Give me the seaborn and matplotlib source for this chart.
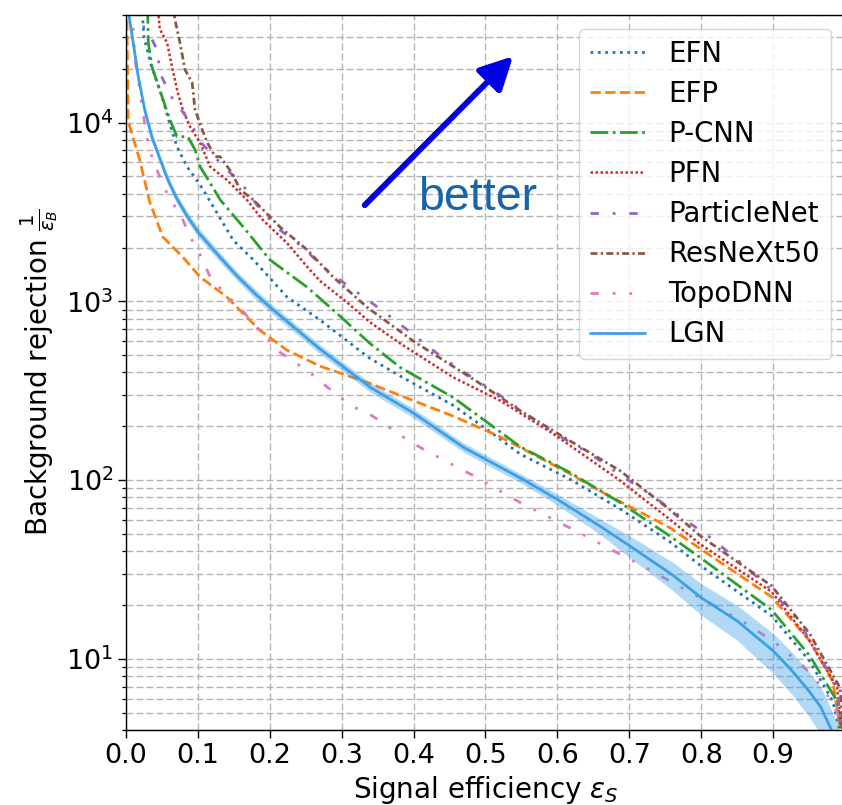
import numpy as np
import matplotlib
matplotlib.use("Agg")
import matplotlib.pyplot as plt
import matplotlib.patheffects as pe
import seaborn as sns

# ROC curves: signal efficiency vs. background rejection (1/eps_B)
efn_x = [0.022, 0.025, 0.035, 0.05, 0.062, 0.071, 0.085, 0.103, 0.114, 0.149, 0.177, 0.224,
         0.27, 0.339, 0.385, 0.455, 0.51, 0.548, 0.618, 0.687, 0.757, 0.798, 0.898, 0.951,
         0.983, 0.993]
efn_y = [45000, 30000, 21000, 14000, 9500, 7330, 5660, 4490, 3800, 2200, 1710, 1057,
         786, 480, 375, 262, 182, 140, 101, 69, 45, 33.5, 17.4, 9.7, 5.8, 3.9]

efp_x = [0.001, 0.003, 0.019, 0.033, 0.051, 0.079, 0.103, 0.14, 0.186, 0.224, 0.27, 0.339,
         0.363, 0.455, 0.52, 0.613, 0.659, 0.757, 0.798, 0.898, 0.951, 0.983, 0.993]
efp_y = [45000, 10200, 6200, 3600, 2300, 1770, 1370, 1060, 690, 533, 434, 348,
         318, 228, 175, 111, 87, 54, 41.5, 22.2, 12.6, 7.5, 4.1]

pcnn_x = [0.030, 0.031, 0.036, 0.05, 0.061, 0.071, 0.086, 0.096, 0.103, 0.117, 0.131, 0.163,
          0.2, 0.252, 0.293, 0.339, 0.381, 0.455, 0.51, 0.548, 0.618, 0.687, 0.757, 0.798,
          0.898, 0.951, 0.989, 0.995]
pcnn_y = [45000, 28100, 20600, 14000, 10400, 8340, 8340, 7060, 5670, 4600, 3700, 2610,
          1710, 1200, 860, 583, 428, 290, 200, 154, 110, 75, 48.5, 37,
          18.8, 10.4, 5.8, 4.0]

pfn_x = [0.044, 0.047, 0.057, 0.064, 0.072, 0.079, 0.089, 0.103, 0.117, 0.14, 0.168, 0.19,
         0.224, 0.252, 0.27, 0.307, 0.339, 0.381, 0.455, 0.52, 0.594, 0.687, 0.757, 0.798,
         0.898, 0.951, 0.989, 0.996]
pfn_y = [45000, 33300, 28100, 20600, 14700, 11800, 9500, 7730, 5670, 4790, 3700, 2860,
         2120, 1560, 1300, 990, 766, 583, 376, 279, 182, 99.5, 60, 44,
         23.7, 12.6, 6.9, 4.0]

pnet_x = [0.012, 0.013, 0.036, 0.045, 0.046, 0.064, 0.086, 0.107, 0.135, 0.163, 0.186, 0.214,
          0.245, 0.274, 0.307, 0.339, 0.374, 0.406, 0.441, 0.481, 0.52, 0.559, 0.601, 0.645,
          0.687, 0.732, 0.773, 0.815, 0.857, 0.894, 0.932, 0.958, 0.979, 0.989, 0.996]
pnet_y = [45000, 40400, 29300, 24700, 19300, 13800, 10500, 7530, 5740, 4440, 3300, 2510,
          2020, 1560, 1234, 1000, 785, 622, 481, 376, 298, 230, 178, 141,
          107, 82, 61.7, 47, 34, 25, 16.9, 11.5, 8.2, 6.6, 4.0]

resnext_x = [0.066, 0.068, 0.075, 0.082, 0.092, 0.096, 0.106, 0.113, 0.124, 0.131, 0.147, 0.159,
             0.177, 0.214, 0.252, 0.288, 0.335, 0.40, 0.49, 0.548, 0.615, 0.687, 0.757, 0.798,
             0.898, 0.951, 0.993, 0.998]
resnext_y = [45000, 37800, 28100, 19800, 16700, 11800, 9140, 7730, 6450, 6450, 5250, 4210,
             3700, 2610, 1940, 1370, 929, 598, 352, 245, 168, 113, 68, 49,
             25.6, 13.8, 6.9, 4.0]

topo_x = [0.008, 0.01, 0.013, 0.029, 0.038, 0.061, 0.075, 0.089, 0.1, 0.117, 0.142, 0.156,
          0.182, 0.196, 0.21, 0.245, 0.266, 0.28, 0.298, 0.318, 0.337, 0.357, 0.378, 0.398,
          0.416, 0.483, 0.548, 0.592, 0.638, 0.683, 0.726, 0.773, 0.816, 0.861, 0.903, 0.942,
          0.961, 0.979, 0.99, 0.995]
topo_y = [45000, 33300, 22000, 8240, 6040, 3700, 3130, 2300, 1940, 1370, 1056, 953,
          708, 630, 533, 428, 372, 331, 290, 255, 236, 210, 182, 162,
          147, 106, 75, 61, 49, 39.3, 31.9, 25, 20.1, 15.9, 12.3, 9.1,
          7.5, 6.0, 4.9, 4.0]

lgn_x = [0.002, 0.01, 0.017, 0.026, 0.036, 0.047, 0.058, 0.07, 0.085, 0.10, 0.13, 0.155,
         0.18, 0.20, 0.27, 0.34, 0.40, 0.47, 0.55, 0.60, 0.66, 0.70, 0.76, 0.80, 0.85, 0.90,
         0.925, 0.95, 0.966, 0.98, 0.99]
lgn_y = [45000, 28000, 18100, 11800, 8300, 6300, 4800, 3800, 3000, 2450, 1780, 1380,
         1100, 930, 540, 330, 237, 152, 102, 78, 55, 43, 29.5, 22, 16.3, 11.1,
         8.7, 6.6, 5.4, 4.1, 3.3]
lgn_lo = [42300, 26300, 17000, 11100, 7800, 5920, 4510, 3570, 2820, 2300, 1670, 1300,
          1030, 874, 508, 310, 223, 143, 96, 72.5, 49.5, 37, 24.2, 17.6, 12.7, 8.3,
          6.4, 4.75, 3.8, 2.9, 2.3]
lgn_hi = [47700, 29700, 19200, 12500, 8800, 6680, 5090, 4030, 3180, 2600, 1890, 1460,
          1170, 986, 572, 350, 251, 161, 108, 83.5, 60.5, 49, 34.8, 26.4, 19.9, 13.9,
          11.0, 8.45, 7.0, 5.3, 4.3]

x_ticks = [0.0, 0.1, 0.2, 0.3, 0.4, 0.5, 0.6, 0.7, 0.8, 0.9]

series = [
    ("EFN", efn_x, efn_y, "#1f77b4", (0, (1, 1.65)), 2.0),
    ("EFP", efp_x, efp_y, "#ff7f0e", (0, (3.7, 1.6)), 2.0),
    ("P-CNN", pcnn_x, pcnn_y, "#2ca02c", (0, (6.4, 1.6, 1, 1.6)), 2.0),
    ("PFN", pfn_x, pfn_y, "#d62728", (0, (1, 1)), 1.8),
    ("ParticleNet", pnet_x, pnet_y, "#9467bd", (0, (3, 5, 1, 5)), 2.0),
    ("ResNeXt50", resnext_x, resnext_y, "#8c564b", (0, (2.5, 1.2, 0.8, 1.2)), 2.0),
    ("TopoDNN", topo_x, topo_y, "#e377c2", (0, (3, 5, 1, 5, 1, 5)), 2.0),
]
lgn_color = "#3ca0e6"

sns.set_style("ticks")
plt.rcParams.update({
    "font.family": ["DejaVu Sans"],
    "font.size": 19.5,
    "axes.edgecolor": "black",
    "xtick.color": "black",
    "ytick.color": "black",
    "axes.labelcolor": "black",
    "text.color": "black",
})

fig = plt.figure(figsize=(8.42, 8.05), dpi=100)
ax = fig.add_axes([126 / 842, 75 / 805, 719 / 842, 715 / 805])

for name, xs, ys, col, ls, lw in series:
    sns.lineplot(x=np.array(xs), y=np.array(ys), ax=ax, color=col, linestyle=ls,
                 linewidth=lw, label=name, estimator=None, sort=False)

ax.fill_between(lgn_x, lgn_lo, lgn_hi, color=lgn_color, alpha=0.4, linewidth=0, zorder=2)
sns.lineplot(x=np.array(lgn_x), y=np.array(lgn_y), ax=ax, color=lgn_color, linewidth=2.0,
             label="LGN", estimator=None, sort=False)

ax.set_yscale("log")
ax.set_xlim(0, 1.0)
ax.set_ylim(4, 4e4)
ax.set_xticks(x_ticks)
ax.set_xticklabels([f"{t:.1f}" for t in x_ticks])

grid_kw = dict(color="#b3b3b3", linestyle=(0, (5, 2.2)), linewidth=1.0)
ax.grid(True, which="both", axis="y", **grid_kw)
ax.grid(True, which="major", axis="x", **grid_kw)
ax.set_axisbelow(True)

ax.tick_params(which="major", direction="out", length=5.5, width=1.0, labelsize=19.5)
ax.tick_params(which="minor", direction="out", length=3.0, width=0.9)
for s in ax.spines.values():
    s.set_visible(True)
    s.set_linewidth(1.0)
    s.set_color("black")

ax.set_xlabel(r"Signal efficiency $\varepsilon_S$", fontsize=20, labelpad=4)
ax.set_ylabel(r"Background rejection $\frac{1}{\varepsilon_B}$", fontsize=20, labelpad=4)

leg = ax.legend(loc="upper right", fontsize=19.8, handlelength=2.0, handletextpad=0.85,
                labelspacing=0.44, borderpad=0.4, framealpha=0.8, fancybox=True)
leg.get_frame().set_edgecolor("0.8")

# "better" direction arrow
ax.annotate("", xy=(0.538, 0.942), xytext=(0.332, 0.734), xycoords="axes fraction",
            textcoords="axes fraction",
            arrowprops=dict(arrowstyle="-|>,head_length=0.55,head_width=0.28",
                            mutation_scale=36, lw=4, color="#0000e6",
                            shrinkA=0, shrinkB=0,
                            path_effects=[pe.withSimplePatchShadow(offset=(2, -2), alpha=0.25),
                                          pe.Normal()]))
ax.text(0.406, 0.727, "better", transform=ax.transAxes, fontsize=33.5,
        family="Liberation Sans", color="#1764ab", ha="left", va="baseline")

fig.savefig("out.png", dpi=100)
